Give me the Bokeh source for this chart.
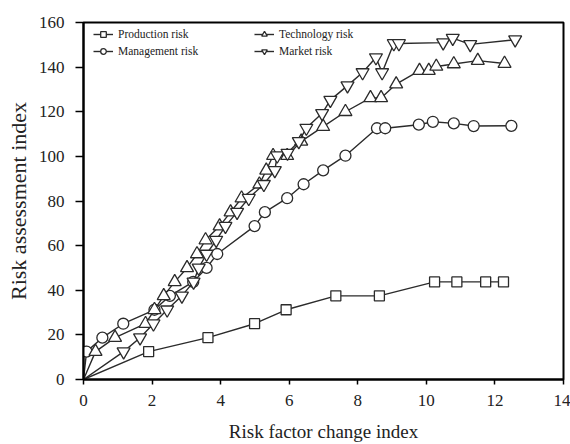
from bokeh.plotting import figure
from bokeh.models import Legend, LegendItem, Range1d, FixedTicker
from bokeh.embed import file_html
from bokeh.resources import INLINE

# ---- data ----
prod_x = [0, 1.90, 3.63, 4.99, 5.91, 7.36, 8.63, 10.24, 10.89, 11.73, 12.25]
prod_y = [0, 12.5, 18.75, 25, 31.25, 37.5, 37.5, 43.75, 43.75, 43.75, 43.75]

mgmt_x = [0, 0.09, 0.55, 1.16, 2.07, 2.52, 3.20, 3.59, 3.90, 4.99, 5.29, 5.94,
          6.42, 6.99, 7.64, 8.56, 8.80, 9.78, 10.19, 10.80, 11.38, 12.48]
mgmt_y = [0, 12.5, 18.75, 25, 31.25, 37.5, 43.75, 50, 56.25, 68.75, 75, 81.25,
          87.5, 93.75, 100.3, 112.6, 112.6, 114.2, 115.5, 114.8, 113.6, 113.7]

tech_x = [0, 0.35, 0.92, 1.81, 2.07, 2.34, 2.66, 3.02, 3.31, 3.56, 3.97, 4.29,
          4.61, 5.13, 5.33, 5.53, 5.94, 6.35, 6.99, 7.64, 8.37, 8.68, 9.12,
          9.80, 10.07, 10.29, 10.80, 11.50, 12.28]
tech_y = [0, 12.5, 18.75, 25, 31.25, 37.5, 43.75, 50, 56.25, 62.5, 68.75, 75,
          81.25, 87.5, 93.75, 100.3, 100.3, 106.7, 113.3, 120, 126.2, 126.2, 132.4,
          138.4, 138.4, 140.3, 141.4, 142.9, 141.6]

mkt_x = [0, 1.17, 1.65, 2.04, 2.44, 2.87, 3.21, 3.36, 3.59, 3.87, 4.14, 4.48,
         4.82, 5.26, 5.58, 5.65, 5.95, 6.28, 6.50, 6.96, 7.20, 7.70, 8.14, 8.53,
         8.71, 9.05, 9.20, 10.49, 10.77, 11.28, 12.59]
mkt_y = [0, 12.5, 18.75, 25, 31.25, 37.5, 43.75, 50, 56.25, 62.5, 68.75, 75,
         81.25, 87.5, 93.75, 100.3, 101.5, 106.7, 112.7, 119.3, 125.2, 131.7, 137.6, 144.3,
         137.6, 150.6, 150.6, 151.0, 153.0, 150.2, 152.3]

x_ticks = [0, 2, 4, 6, 8, 10, 12, 14]
y_ticks = [0, 20, 40, 60, 80, 100, 120, 140, 160]

FONT = "Liberation Serif"
LINE = "#2b2b2b"

p = figure(width=570, height=444, output_backend="svg", toolbar_location=None,
           x_range=Range1d(0, 14), y_range=Range1d(0, 160),
           min_border_left=83, min_border_right=7, min_border_top=22, min_border_bottom=65)

p.background_fill_color = "white"
p.border_fill_color = "white"
p.xgrid.visible = False
p.ygrid.visible = False
p.outline_line_color = "black"
p.outline_line_width = 2

for ax in (p.xaxis[0], p.yaxis[0]):
    ax.axis_line_width = 2
    ax.axis_line_color = "black"
    ax.major_tick_in = 0
    ax.minor_tick_in = 0
    ax.minor_tick_out = 0
    ax.major_tick_line_width = 1.5
    ax.major_label_text_font = FONT
    ax.major_label_text_font_size = "17px"
    ax.major_label_text_color = "#222222"
    ax.axis_label_text_font = FONT
    ax.axis_label_text_font_style = "normal"
    ax.axis_label_text_color = "#222222"

p.xaxis[0].ticker = FixedTicker(ticks=x_ticks)
p.yaxis[0].ticker = FixedTicker(ticks=y_ticks)
p.xaxis[0].major_tick_out = 5
p.yaxis[0].major_tick_out = 8
p.xaxis[0].major_label_standoff = 10
p.yaxis[0].major_label_standoff = 11
p.xaxis[0].axis_label = "Risk factor change index"
p.yaxis[0].axis_label = "Risk assessment index"
p.xaxis[0].axis_label_text_font_size = "19px"
p.yaxis[0].axis_label_text_font_size = "22px"
p.xaxis[0].axis_label_standoff = 12
p.yaxis[0].axis_label_standoff = 5

series = [
    ("Production risk", prod_x, prod_y, "square", 10),
    ("Management risk", mgmt_x, mgmt_y, "circle", 11),
    ("Technology risk", tech_x, tech_y, "triangle", 13),
    ("Market risk", mkt_x, mkt_y, "inverted_triangle", 13),
]

items = []
for name, xs, ys, marker, size in series:
    ln = p.line(xs, ys, line_color=LINE, line_width=1.4)
    sc = p.scatter(xs[1:], ys[1:], marker=marker, size=size, fill_color="white",
                   line_color=LINE, line_width=1.3)
    items.append(LegendItem(label=name, renderers=[ln, sc]))

def make_legend(its, loc):
    lg = Legend(items=its, location=loc, orientation="vertical",
                label_text_font=FONT, label_text_font_size="11.5px",
                label_text_color="#222222",
                glyph_width=20, glyph_height=14, label_height=14,
                label_standoff=5, spacing=3, padding=3,
                border_line_color=None, background_fill_alpha=0)
    return lg

p.add_layout(make_legend(items[0:2], (10, 321)), "center")
p.add_layout(make_legend(items[2:4], (171, 321)), "center")

open("out.html", "w").write(file_html(p, INLINE))
